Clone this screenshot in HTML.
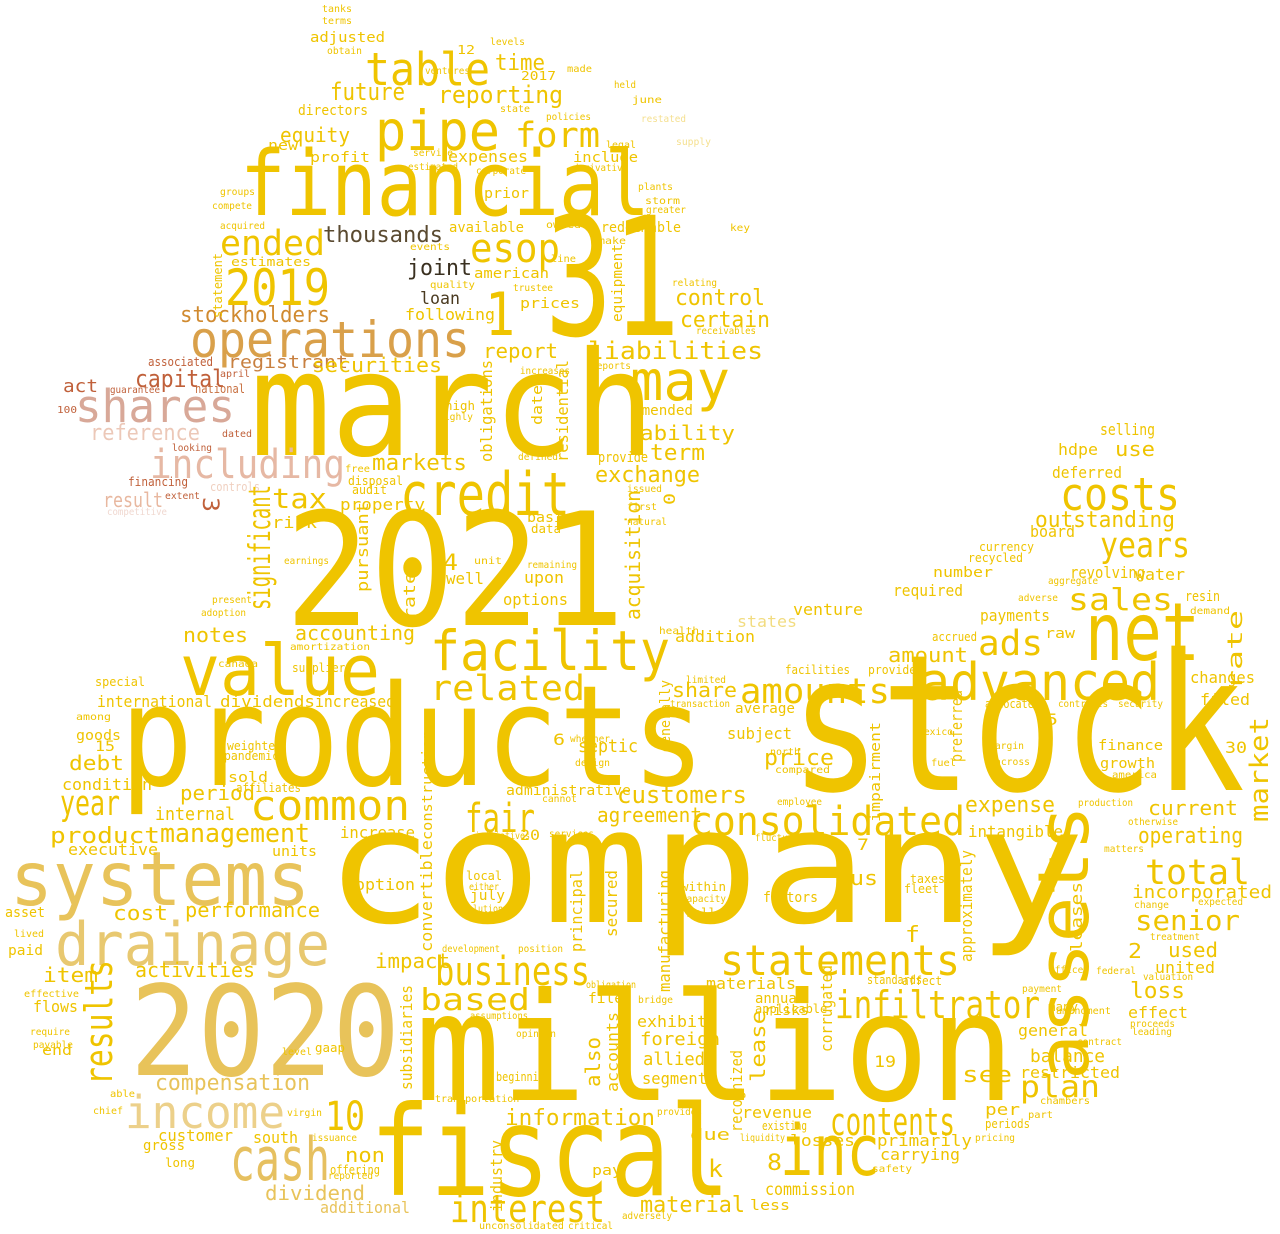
<!DOCTYPE html>
<html><head><meta charset="utf-8"><style>
html,body{margin:0;padding:0;background:#fff;}
svg{display:block;}
text{font-family:"DejaVu Sans Mono","Liberation Mono",monospace;}
</style></head><body>
<svg id="cloud" width="1280" height="1234" viewBox="0 0 1280 1234" xmlns="http://www.w3.org/2000/svg"></svg>
<script>
// [word, x, baselineY, fontSize, width, color, rotation]
const G="#efc400",G2="#e9c230",G3="#e8c35a",O="#d9a04a",P="#d8a898",R="#c0603a";
const words=[
["company",325,922,160,760,G,0],
["stock",790,790,190,455,G,0],
["products",120,785,140,585,G,0],
["march",250,455,145,405,G,0],
["million",415,1100,150,600,G,0],
["fiscal",370,1195,125,360,G,0],
["2021",285,625,157,340,G,0],
["2020",130,1075,125,270,G3,0],
["31",545,335,165,135,G,0],
["1",485,335,60,30,G,0],
["financial",240,215,90,410,G,0],
["systems",10,905,75,300,G3,0],
["drainage",55,965,60,275,"#e8c870",0],
["value",180,695,70,200,G,0],
["credit",400,515,60,170,G,0],
["facility",430,670,55,240,G,0],
["net",1085,660,80,115,G,0],
["assets",1088,1080,70,275,G,-90],
["advanced",920,700,52,240,G,0],
["costs",1060,510,45,120,G,0],
["inc",780,1175,70,100,G,0],
["cash",230,1180,60,100,"#e6c060",0],
["income",125,1128,45,160,"#ecd08a",0],
["operations",190,357,50,280,O,0],
["shares",75,422,45,160,P,0],
["including",150,478,40,195,"#e6b8a4",0],
["reference",90,440,22,110,"#ecc8b8",0],
["stockholders",180,322,22,150,"#d08a30",0],
["capital",135,387,24,90,R,0],
["registrant",228,368,18,120,"#c88040",0],
["act",63,392,18,35,R,0],
["associated",148,366,12,65,R,0],
["national",195,393,12,50,"#c87040",0],
["result",103,507,20,60,"#e8b8a0",0],
["pipe",375,150,55,125,G,0],
["table",365,85,45,125,G,0],
["may",630,400,55,100,G,0],
["2019",225,305,50,105,G,0],
["ended",220,255,35,105,G,0],
["thousands",323,242,22,120,"#5a4a30",0],
["joint",407,275,22,65,"#3a3020",0],
["loan",420,304,17,40,"#4a3a20",0],
["esop",470,262,40,90,G,0],
["form",515,147,35,85,G,0],
["reporting",438,103,24,125,G,0],
["future",330,100,24,75,G,0],
["time",495,70,22,50,G,0],
["equity",280,142,20,70,G,0],
["consolidated",690,835,40,275,G,0],
["common",250,820,42,160,G,0],
["business",435,985,40,155,G,0],
["statements",720,975,42,240,G,0],
["infiltrator",835,1018,38,205,G,0],
["contents",830,1135,38,125,G,0],
["interest",450,1222,38,155,G,0],
["results",112,1085,38,125,G,-90],
["related",430,700,35,155,G,0],
["fair",465,832,40,70,G,0],
["amounts",740,703,35,150,G,0],
["year",60,815,35,60,G,0],
["total",1145,884,35,105,G,0],
["senior",1135,930,28,105,G,0],
["management",160,842,26,150,G,0],
["compensation",155,1090,22,155,G3,0],
["10",325,1130,40,40,G,0],
["dividend",265,1200,20,100,G3,0],
["liabilities",588,359,24,175,G,0],
["control",675,305,22,90,G,0],
["certain",680,327,22,90,G,0],
["markets",372,470,22,95,G,0],
["tax",272,508,28,55,G,0],
["exchange",595,482,22,105,G,0],
["term",650,460,22,55,G,0],
["ability",640,440,20,95,G,0],
["years",1100,557,35,90,G,0],
["outstanding",1035,527,22,140,G,0],
["sales",1068,610,30,105,G,0],
["ads",978,655,35,65,G,0],
["amount",888,662,20,80,G,0],
["accounting",295,640,20,120,G,0],
["notes",183,642,20,65,G,0],
["securities",312,372,20,130,G,0],
["report",483,358,20,75,G,0],
["expense",965,812,22,90,G,0],
["operating",1138,843,22,105,G,0],
["current",1148,815,20,90,G,0],
["price",764,765,22,70,G,0],
["customers",617,803,24,130,G,0],
["agreement",597,822,20,105,G,0],
["based",420,1010,30,110,G,0],
["information",505,1125,22,150,G,0],
["material",640,1212,22,105,G,0],
["commission",765,1195,17,90,G,0],
["impact",375,968,20,75,G,0],
["activities",135,977,20,120,G,0],
["performance",185,917,20,135,G,0],
["cost",113,920,20,55,G,0],
["item",43,982,20,55,G,0],
["debt",69,770,20,55,G,0],
["product",50,843,22,110,G,0],
["period",180,800,20,75,G,0],
["internal",155,820,18,80,G,0],
["executive",68,855,16,90,G,0],
["condition",62,790,16,90,G,0],
["increase",340,838,16,75,G,0],
["option",355,890,16,60,G,0],
["share",672,697,20,65,G,0],
["septic",578,752,18,60,G,0],
["administrative",506,795,14,125,G,0],
["plan",1020,1097,30,80,G,0],
["balance",1030,1062,18,75,G,0],
["restricted",1020,1078,16,100,G,0],
["incorporated",1132,898,18,140,G,0],
["used",1168,957,20,50,G,0],
["united",1155,973,16,60,G,0],
["loss",1130,998,22,55,G,0],
["effect",1128,1018,16,60,G,0],
["see",962,1082,22,50,G,0],
["revenue",742,1118,16,70,G,0],
["primarily",877,1146,16,95,G,0],
["carrying",880,1160,16,80,G,0],
["losses",790,1146,16,65,G,0],
["exhibit",637,1027,16,70,G,0],
["foreign",640,1045,18,80,G,0],
["allied",643,1065,18,62,G,0],
["segment",642,1084,16,65,G,0],
["non",345,1162,20,40,G,0],
["customer",158,1141,16,75,G,0],
["additional",320,1213,16,90,G3,0],
["south",253,1143,16,45,G,0],
["use",1115,456,20,40,G,0],
["selling",1100,435,16,55,G,0],
["deferred",1052,478,16,70,G,0],
["hdpe",1058,455,16,40,G,0],
["revolving",1070,578,16,75,G,0],
["water",1135,580,16,50,G,0],
["payments",980,621,16,70,G,0],
["required",893,596,16,70,G,0],
["number",933,577,14,60,G,0],
["venture",793,615,16,70,G,0],
["states",737,627,16,60,"#f2dc80",0],
["addition",675,642,16,80,G,0],
["intangible",968,837,16,95,G,0],
["finance",1098,750,14,65,G,0],
["growth",1100,768,14,55,G,0],
["changes",1190,683,16,65,G,0],
["filed",1200,705,16,50,G,0],
["options",503,605,16,65,G,0],
["upon",524,583,16,40,G,0],
["basis",527,522,14,45,G,0],
["property",340,510,16,85,G,0],
["risk",272,528,16,45,G,0],
["international",97,707,16,115,G,0],
["dividends",220,707,16,95,G,0],
["increased",315,707,16,80,G,0],
["goods",76,740,14,45,G,0],
["sold",228,782,14,40,G,0],
["units",272,856,14,45,G,0],
["profit",310,162,14,60,G,0],
["expenses",448,162,16,80,G,0],
["include",573,162,14,65,G,0],
["available",449,232,14,75,G,0],
["redeemable",601,232,14,80,G,0],
["american",474,278,14,75,G,0],
["prices",520,308,14,60,G,0],
["following",405,320,16,90,G,0],
["adjusted",310,42,14,75,G,0],
["directors",298,115,14,70,G,0],
["prior",484,198,14,45,G,0],
["significant",270,610,30,125,G,-90],
["acquisition",640,620,20,130,G,-90],
["market",1268,822,26,105,G,-90],
["subsidiaries",412,1090,16,105,G,-90],
["approximately",972,962,16,112,G,-90],
["impairment",880,822,14,100,G,-90],
["preferred",962,762,16,72,G,-90],
["convertible",432,952,16,112,G,-90],
["manufacturing",670,992,16,122,G,-90],
["construction",432,840,14,110,G,-90],
["residential",568,462,16,102,G,-90],
["obligations",492,462,16,102,G,-90],
["lease",765,1082,20,72,G,-90],
["rate",1242,690,20,80,G,-90],
["rates",415,620,16,60,G,-90],
["pursuant",368,592,16,90,G,-90],
["principal",582,952,16,82,G,-90],
["secured",617,937,16,67,G,-90],
["industry",502,1212,16,72,G,-90],
["accounts",618,1092,16,80,G,-90],
["also",600,1087,20,50,G,-90],
["leases",1082,952,16,70,G,-90],
["generally",670,752,14,72,G,-90],
["corrugated",832,1052,16,87,G,-90],
["recognized",742,1132,16,82,G,-90],
["equipment",622,322,14,78,G,-90],
["date",542,425,14,40,G,-90],
["4",443,570,22,15,G,0],
["8",767,1170,22,15,G,0],
["k",708,1177,24,15,G,0],
["f",905,942,22,15,G,0],
["us",850,885,20,28,G,0],
["6",553,745,16,12,G,0],
["19",874,1067,16,22,G,0],
["30",1225,753,16,22,G,0],
["15",95,751,14,20,G,0],
["2",1128,958,20,14,G,0],
["5",1046,725,16,12,G,0],
["3",203,497,22,15,R,90],
["7",857,850,16,12,G,0],
["0",675,505,16,12,G,-90],
["per",985,1115,16,35,G,0],
["due",690,1140,16,40,G,0],
["general",1018,1036,16,70,G,0],
["subject",727,739,16,65,G,0],
["average",735,713,14,60,G,0],
["materials",706,989,16,90,G,0],
["annual",755,1003,14,50,G,0],
["risks",764,1015,14,45,G,0],
["file",588,1003,14,35,G,0],
["pay",592,1175,14,30,G,0],
["less",750,1210,14,40,G,0],
["july",470,900,14,35,G,0],
["plants",638,190,10,35,G,0],
["storm",645,204,10,35,G,0],
["legal",606,148,10,30,G,0],
["june",632,103,10,30,G,0],
["policies",546,120,10,45,G,0],
["2017",521,80,12,35,G,0],
["new",268,150,14,30,G,0],
["statement",222,318,12,0,G,-90],
["estimates",231,266,12,80,G,0],
["owned",546,228,10,35,G,0],
["line",551,262,10,25,G,0],
["make",598,244,10,28,G,0],
["quality",430,288,10,45,G,0],
["events",410,250,10,40,G,0],
["trustee",513,291,10,40,G,0],
["board",1030,537,16,45,G,0],
["currency",979,551,12,55,G,0],
["recycled",968,562,12,55,G,0],
["accrued",932,641,12,45,G,0],
["raw",1045,638,14,30,G,0],
["provided",868,674,12,55,G,0],
["facilities",785,674,12,65,G,0],
["fleet",904,893,12,35,G,0],
["taxes",910,883,12,35,G,0],
["within",681,891,12,45,G,0],
["capacity",681,902,10,45,G,0],
["sell",686,917,12,30,G,0],
["gaap",315,1052,12,30,G,0],
["end",42,1055,14,30,G,0],
["flows",33,1012,16,45,G,0],
["paid",8,955,14,35,G,0],
["asset",5,917,14,40,G,0],
["effective",24,997,10,55,G,0],
["lived",14,937,10,30,G,0],
["special",95,686,12,50,G,0],
["weighted",227,750,12,55,G,0],
["affiliates",236,792,12,65,G,0],
["pandemic",224,760,12,55,G,0],
["canada",218,667,10,40,G,0],
["among",76,720,10,35,G,0],
["adoption",201,616,10,45,G,0],
["present",212,603,10,40,G,0],
["amortization",290,650,10,80,G,0],
["suppliers",292,672,12,60,G,0],
["earnings",284,564,10,45,G,0],
["audit",352,494,12,35,G,0],
["disposal",348,485,12,55,G,0],
["free",345,472,10,25,G,0],
["well",446,584,16,38,G,0],
["unit",474,564,10,28,G,0],
["remaining",527,568,10,50,G,0],
["data",531,533,12,30,G,0],
["first",627,510,10,30,G,0],
["natural",627,525,10,40,G,0],
["health",659,634,10,40,G,0],
["limited",686,683,10,40,G,0],
["transaction",670,707,10,60,G,0],
["whether",570,742,10,40,G,0],
["design",575,766,10,35,G,0],
["cannot",542,802,10,35,G,0],
["services",549,837,10,45,G,0],
["20",520,840,14,20,G,0],
["initiatives",475,839,10,55,G,0],
["local",466,880,12,0,G,0],
["either",469,890,10,30,G,0],
["solutions",463,912,10,45,G,0],
["position",518,952,10,45,G,0],
["development",442,952,10,58,G,0],
["obligation",586,988,10,50,G,0],
["bridge",638,1003,10,35,G,0],
["assumptions",470,1019,10,58,G,0],
["opinion",516,1037,10,40,G,0],
["beginning",496,1081,12,55,G,0],
["transportation",435,1102,10,0,G,0],
["north",770,755,10,30,G,0],
["compared",775,773,10,55,G,0],
["employee",777,805,10,45,G,0],
["fluctuations",755,841,10,65,G,0],
["factors",763,902,14,55,G,0],
["applicable",755,1013,12,0,G,0],
["existing",762,1130,12,45,G,0],
["liquidity",740,1141,10,45,G,0],
["standards",867,984,12,55,G,0],
["affect",902,985,12,40,G,0],
["mexico",918,735,10,35,G,0],
["fuel",931,766,10,25,G,0],
["allocated",985,708,12,55,G,0],
["margin",989,749,10,35,G,0],
["across",995,765,10,35,G,0],
["contracts",1058,707,10,50,G,0],
["security",1118,707,10,45,G,0],
["america",1112,778,10,45,G,0],
["production",1078,806,10,55,G,0],
["otherwise",1128,825,10,50,G,0],
["matters",1104,852,10,40,G,0],
["expected",1198,905,10,45,G,0],
["change",1134,908,10,35,G,0],
["treatment",1150,940,10,50,G,0],
["valuation",1143,980,10,50,G,0],
["proceeds",1130,1027,10,45,G,0],
["leading",1132,1035,10,40,G,0],
["amendment",1056,1014,10,55,G,0],
["officer",1049,973,10,40,G,0],
["federal",1096,974,10,40,G,0],
["payment",1022,992,10,40,G,0],
["many",1048,1011,12,30,G,0],
["contract",1077,1045,10,45,G,0],
["chambers",1040,1104,10,50,G,0],
["part",1028,1118,10,25,G,0],
["periods",985,1128,12,45,G,0],
["safety",872,1172,10,40,G,0],
["pricing",975,1141,10,40,G,0],
["resin",1185,601,14,35,G,0],
["demand",1190,614,10,40,G,0],
["adverse",1018,601,10,40,G,0],
["aggregate",1048,584,10,50,G,0],
["levels",490,45,10,35,G,0],
["12",457,54,12,18,G,0],
["state",500,112,10,30,G,0],
["tanks",322,12,10,30,G,0],
["terms",322,24,10,30,G,0],
["obtain",327,54,10,35,G,0],
["ventures",425,74,10,45,G,0],
["made",567,72,10,25,G,0],
["held",614,88,10,22,G,0],
["restated",641,122,10,45,"#f5e090",0],
["supply",676,145,10,35,"#f5e090",0],
["corporate",476,174,10,50,G,0],
["derivative",573,171,10,55,G,0],
["service",413,156,10,40,G,0],
["estimated",408,170,10,50,G,0],
["compete",212,209,10,40,G,0],
["groups",220,195,10,35,G,0],
["acquired",220,229,10,45,G,0],
["key",730,231,10,20,G,0],
["greater",646,213,10,40,G,0],
["relating",672,286,10,45,G,0],
["receivables",696,334,10,60,G,0],
["reports",591,369,10,40,G,0],
["increases",520,374,10,50,G,0],
["provide",598,462,14,50,G,0],
["high",445,410,12,30,G,0],
["highly",438,420,10,35,G,0],
["amended",633,415,14,60,G,0],
["defined",518,460,10,40,G,0],
["issued",627,492,10,35,G,0],
["looking",172,451,10,40,R,0],
["dated",222,437,10,30,R,0],
["100",57,413,10,20,R,0],
["guarantee",110,393,10,50,R,0],
["april",220,377,10,30,R,0],
["financing",128,486,12,60,R,0],
["extent",165,499,10,35,R,0],
["controls",210,491,12,50,"#f0d0c0",0],
["competitive",107,515,10,60,"#f0d8d0",0],
["chief",93,1114,10,30,G,0],
["long",165,1167,12,30,G,0],
["gross",143,1150,14,42,G,0],
["payable",33,1048,10,40,G,0],
["require",30,1035,10,40,G,0],
["able",110,1097,10,25,G,0],
["level",282,1055,10,30,G,0],
["virgin",287,1116,10,35,G,0],
["issuance",312,1141,10,45,G,0],
["offering",330,1174,12,50,G,0],
["reported",328,1179,10,45,G,0],
["unconsolidated",479,1229,10,85,G,0],
["critical",568,1229,10,45,G,0],
["adversely",622,1219,10,50,G,0],
["provides",657,1115,10,45,G,0],
["costs",1060,510,1,1,G,0]
];
const svg=document.getElementById('cloud');
const NS='http://www.w3.org/2000/svg';
words.forEach(function(w){
  if(w[3]<2)return;
  const t=document.createElementNS(NS,'text');
  
  
  t.setAttribute('x',w[1]);
  t.setAttribute('y',w[2]);
  t.setAttribute('font-size',w[3]);
  t.setAttribute('fill',w[5]);
  if(w[4]>0){t.setAttribute('textLength',w[4]);t.setAttribute('lengthAdjust','spacingAndGlyphs');}
  if(w[6])t.setAttribute('transform','rotate('+w[6]+' '+w[1]+' '+w[2]+')');
  t.textContent=w[0];
  svg.appendChild(t);
});
</script>
</body></html>
